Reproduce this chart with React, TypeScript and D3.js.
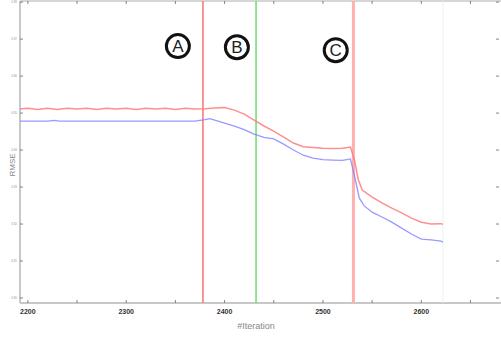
import React from "react";
import * as d3 from "d3";

const xTicks = [2200, 2250, 2300, 2350, 2400, 2450, 2500, 2550, 2600, 2650];
const xLabels = [2200, 2300, 2400, 2500, 2600];
const yTicks = [0.80, 0.81, 0.82, 0.83, 0.84, 0.85, 0.86, 0.87, 0.88];

const redSeries: [number, number][] = [
  [2192, 0.8511], [2200, 0.8513], [2210, 0.851], [2220, 0.8513], [2230, 0.851], [2240, 0.8513],
  [2250, 0.8511], [2260, 0.8513], [2270, 0.851], [2280, 0.8513], [2290, 0.8511], [2300, 0.8513],
  [2310, 0.851], [2320, 0.8513], [2330, 0.8511], [2340, 0.8513], [2350, 0.851], [2360, 0.8513],
  [2370, 0.8511], [2380, 0.8512], [2390, 0.8514], [2400, 0.8515], [2410, 0.8508], [2420, 0.8497],
  [2430, 0.8481], [2440, 0.8465], [2450, 0.8451], [2460, 0.8435], [2470, 0.8419], [2480, 0.8409],
  [2490, 0.8407], [2500, 0.8405], [2510, 0.8404], [2520, 0.8405], [2528, 0.8408], [2532, 0.8373],
  [2536, 0.8319], [2540, 0.8292], [2550, 0.8273], [2560, 0.8257], [2570, 0.8243], [2580, 0.823],
  [2590, 0.8216], [2600, 0.8205], [2610, 0.82], [2620, 0.8201], [2622, 0.8199],
];

const blueSeries: [number, number][] = [
  [2192, 0.8478], [2220, 0.8478], [2227, 0.848], [2232, 0.8478], [2370, 0.8478], [2380, 0.8482],
  [2385, 0.8485], [2390, 0.8481], [2400, 0.8473], [2410, 0.8465], [2420, 0.8455], [2430, 0.8443],
  [2440, 0.8434], [2450, 0.843], [2460, 0.8416], [2470, 0.84], [2480, 0.8386], [2490, 0.8378],
  [2500, 0.8374], [2510, 0.8373], [2520, 0.8372], [2528, 0.8376], [2533, 0.8319], [2537, 0.827],
  [2542, 0.8249], [2550, 0.8232], [2560, 0.8219], [2570, 0.8205], [2580, 0.8189], [2590, 0.8173],
  [2600, 0.8159], [2610, 0.8157], [2620, 0.8154], [2622, 0.8151],
];

const markerIters = [2378, 2432, 2531, 2622];
const markerColors = ["#ff7878", "#77dd77", "#ffb0b0", "#e6f6e6"];
const markerWidths = [1.6, 1.6, 3, 1];

const annotations = ["A", "B", "C"];
const annotationIters = [2352.5, 2412.5, 2513];
const annotationValues = [0.8681, 0.8678, 0.867];

export default function App() {
  const W = 501, H = 339;
  const left = 20, right = 499, top = 1, bottom = 303;
  const x = d3.scaleLinear().domain([2192, 2679]).range([left, right]);
  const y = d3.scaleLinear().domain([0.79865, 0.8803]).range([bottom, top]);
  const line = d3.line<[number, number]>().x(d => x(d[0])).y(d => y(d[1]));
  const axisColor = "#c8c8c8";
  const tickColor = "#666";

  return (
    <svg width={W} height={H} style={{ position: "absolute", left: 0, top: 0, background: "#fff" }}
      fontFamily="'Liberation Sans', Arial, sans-serif">
      {/* frame */}
      <line x1={left} x2={right + 2} y1={top} y2={top} stroke={axisColor} strokeWidth={1.5} />
      <line x1={left} x2={left} y1={top} y2={bottom} stroke={axisColor} strokeWidth={2} />
      <line x1={left} x2={right + 2} y1={bottom} y2={bottom} stroke={axisColor} strokeWidth={2} />
      {/* x ticks */}
      {xTicks.map(t => (
        <g key={"xt" + t}>
          <line x1={x(t)} x2={x(t)} y1={bottom} y2={bottom - 3} stroke={tickColor} strokeWidth={0.8} />
          <line x1={x(t)} x2={x(t)} y1={top} y2={top + 3} stroke={tickColor} strokeWidth={0.8} />
        </g>
      ))}
      {xLabels.map(t => (
        <text key={"xl" + t} x={x(t)} y={bottom + 11} fontSize={7} fontWeight="bold" fill="#333" textAnchor="middle">{t}</text>
      ))}
      {/* y ticks */}
      {yTicks.map(t => (
        <g key={"yt" + t}>
          <line x1={left} x2={left + 3} y1={y(t)} y2={y(t)} stroke={tickColor} strokeWidth={0.8} />
          <line x1={right - 3} x2={right} y1={y(t)} y2={y(t)} stroke={tickColor} strokeWidth={0.8} />
          <text x={left - 3} y={y(t) + 1} fontSize={3} fill="#999" textAnchor="end">{t.toFixed(2)}</text>
        </g>
      ))}
      {/* axis titles */}
      <text x={256} y={329} fontSize={9} fill="#888" textAnchor="middle">#Iteration</text>
      <text transform={`translate(15,165) rotate(-90)`} fontSize={8} fill="#888" textAnchor="middle">RMSE</text>
      {/* vertical markers */}
      {markerIters.map((m, i) => (
        <line key={"m" + i} x1={x(m)} x2={x(m)} y1={top} y2={bottom} stroke={markerColors[i]} strokeWidth={markerWidths[i]} />
      ))}
      {/* series */}
      <path d={line(redSeries) || ""} fill="none" stroke="#ff7a7a" strokeWidth={1.5} strokeOpacity={0.85} />
      <path d={line(blueSeries) || ""} fill="none" stroke="#8080ff" strokeWidth={1.3} strokeOpacity={0.8} />
      {/* annotations */}
      {annotations.map((a, i) => (
        <g key={a} transform={`translate(${x(annotationIters[i])},${y(annotationValues[i])})`}>
          <circle r={11.5} fill="#fff" stroke="#111" strokeWidth={3} />
          <text y={6} fontSize={17} fill="#222" textAnchor="middle">{a}</text>
        </g>
      ))}
    </svg>
  );
}
